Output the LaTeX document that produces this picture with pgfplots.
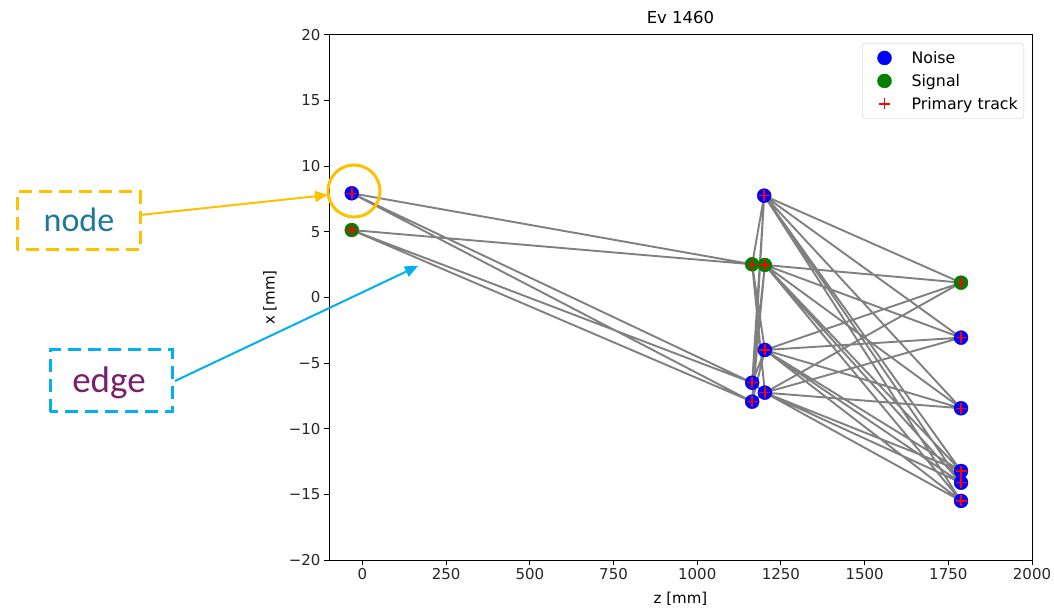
\documentclass[border=0pt]{standalone}
\usepackage{pgfplots}
\pgfplotsset{compat=1.18}
\usepackage{fontspec}
\setmainfont{DejaVu Sans}
\newfontfamily\annfont{Carlito}
\usetikzlibrary{arrows.meta}
\definecolor{nblue}{RGB}{0,0,255}
\definecolor{ngreen}{RGB}{0,128,0}
\definecolor{nred}{RGB}{255,0,0}
\definecolor{egray}{RGB}{128,128,128}
\definecolor{anngold}{RGB}{255,192,0}
\definecolor{annblue}{RGB}{0,176,240}
\definecolor{nodetxt}{RGB}{30,120,155}
\definecolor{edgetxt}{RGB}{120,32,108}
\begin{document}
\begin{tikzpicture}[x=1pt,y=1pt]
\path[use as bounding box] (0,0) rectangle (1054,610);
\begin{axis}[
  at={(329pt,50pt)}, anchor=south west,
  scale only axis, width=703pt, height=525pt,
  xmin=-100, xmax=2000, ymin=-20, ymax=20,
  xtick={0,250,500,750,1000,1250,1500,1750,2000},
  xticklabels={0,250,500,750,1000,1250,1500,1750,2000},
  ytick={-20,-15,-10,-5,0,5,10,15,20},
  yticklabels={−20,−15,−10,−5,0,5,10,15,20},
  tick align=outside, xtick pos=lower, ytick pos=left,
  major tick length=5pt,
  every tick/.style={black, line width=1pt},
  axis line style={line width=1pt},
  tick label style={font=\fontsize{15}{17}\selectfont, text=black!85},
  every axis title shift=0pt,
  title={Ev 1460},
  title style={font=\fontsize{16.5}{19}\selectfont, at={(axis description cs:0.5,1.021)}, anchor=base},
  xlabel={z [mm]},
  xlabel style={font=\fontsize{15}{17}\selectfont, at={(axis description cs:0.5,-0.0838)}, anchor=base},
  ylabel={x [mm]},
  ylabel style={font=\fontsize{15}{17}\selectfont, at={(axis description cs:-0.084,0.5)}, anchor=center},
  legend style={at={(axis description cs:1,1)}, anchor=north east, xshift=-8pt, yshift=-8pt,
    draw=black!20, rounded corners=3pt, font=\fontsize{15.8}{18}\selectfont,
    row sep=5.5pt, column sep=7pt, inner xsep=4pt, inner ysep=6pt},
  legend image code/.code={%
    \path[draw=none, fill=none] (0pt,-1pt) -- (36pt,1pt);
    \draw[mark repeat=2, mark phase=2, #1] plot coordinates {(0pt,0pt) (18pt,0pt) (36pt,0pt)};},
  legend cell align=left,
  unbounded coords=jump,
]
% noise nodes
\addplot[only marks, mark=*, mark size=7pt, mark options={draw=nblue, fill=nblue}] coordinates {
(-32,7.94) (1200,7.76) (1202,-4.0) (1164,-6.49) (1202,-7.25) (1164,-7.94)
(1788,-3.06) (1788,-8.44) (1788,-13.22) (1788,-14.11) (1788,-15.5)};
\addlegendentry{Noise}
% signal nodes
\addplot[only marks, mark=*, mark size=7pt, mark options={draw=ngreen, fill=ngreen}] coordinates {
(-32,5.14) (1164,2.53) (1202,2.48) (1788,1.13)};
\addlegendentry{Signal}
% edges
\addplot[forget plot, egray, line width=1.9pt] coordinates {
(-32,7.94) (1164,2.53) (nan,nan)
(-32,7.94) (1164,-6.49) (nan,nan)
(-32,7.94) (1164,-7.94) (nan,nan)
(-32,5.14) (1164,2.53) (nan,nan)
(-32,5.14) (1164,-6.49) (nan,nan)
(-32,5.14) (1164,-7.94) (nan,nan)
(1164,2.53) (1200,7.76) (nan,nan)
(1164,2.53) (1202,2.48) (nan,nan)
(1164,2.53) (1202,-4.0) (nan,nan)
(1164,2.53) (1202,-7.25) (nan,nan)
(1164,-6.49) (1200,7.76) (nan,nan)
(1164,-6.49) (1202,2.48) (nan,nan)
(1164,-6.49) (1202,-4.0) (nan,nan)
(1164,-6.49) (1202,-7.25) (nan,nan)
(1164,-7.94) (1200,7.76) (nan,nan)
(1164,-7.94) (1202,2.48) (nan,nan)
(1164,-7.94) (1202,-4.0) (nan,nan)
(1164,-7.94) (1202,-7.25) (nan,nan)
(1200,7.76) (1788,1.13) (nan,nan)
(1200,7.76) (1788,-3.06) (nan,nan)
(1200,7.76) (1788,-8.44) (nan,nan)
(1200,7.76) (1788,-13.22) (nan,nan)
(1200,7.76) (1788,-14.11) (nan,nan)
(1200,7.76) (1788,-15.5) (nan,nan)
(1202,2.48) (1788,1.13) (nan,nan)
(1202,2.48) (1788,-3.06) (nan,nan)
(1202,2.48) (1788,-8.44) (nan,nan)
(1202,2.48) (1788,-13.22) (nan,nan)
(1202,2.48) (1788,-14.11) (nan,nan)
(1202,2.48) (1788,-15.5) (nan,nan)
(1202,-4.0) (1788,1.13) (nan,nan)
(1202,-4.0) (1788,-3.06) (nan,nan)
(1202,-4.0) (1788,-8.44) (nan,nan)
(1202,-4.0) (1788,-13.22) (nan,nan)
(1202,-4.0) (1788,-14.11) (nan,nan)
(1202,-4.0) (1788,-15.5) (nan,nan)
(1202,-7.25) (1788,1.13) (nan,nan)
(1202,-7.25) (1788,-3.06) (nan,nan)
(1202,-7.25) (1788,-8.44) (nan,nan)
(1202,-7.25) (1788,-13.22) (nan,nan)
(1202,-7.25) (1788,-14.11) (nan,nan)
(1202,-7.25) (1788,-15.5)
};
% primary track
\addplot[only marks, mark=+, mark size=5.5pt, mark options={draw=nred, line width=1.5pt}] coordinates {
(-32,7.94) (-32,5.14) (1200,7.76) (1164,2.53) (1202,2.48) (1202,-4.0) (1164,-6.49) (1202,-7.25) (1164,-7.94)
(1788,1.13) (1788,-3.06) (1788,-8.44) (1788,-13.22) (1788,-14.11) (1788,-15.5)};
\addlegendentry{Primary track}
\end{axis}
% annotations
\draw[anngold, line width=3pt] (354,419) circle (26pt);
\draw[anngold, line width=3pt, dash pattern=on 13pt off 7pt] (17,360) rectangle (140,418);
\node[text=nodetxt, font=\annfont\fontsize{34}{37}\selectfont] at (79,390) {node};
\draw[anngold, line width=2pt, -{Triangle[length=13pt,width=11pt]}] (140,395) -- (328,415);
\draw[annblue, line width=3pt, dash pattern=on 13pt off 7pt] (50,198) rectangle (172,260);
\node[text=edgetxt, font=\annfont\fontsize{37}{40}\selectfont] at (109,227) {edge};
\draw[annblue, line width=2pt, -{Triangle[length=13pt,width=11pt]}] (175,229) -- (418,344);
\end{tikzpicture}
\end{document}
